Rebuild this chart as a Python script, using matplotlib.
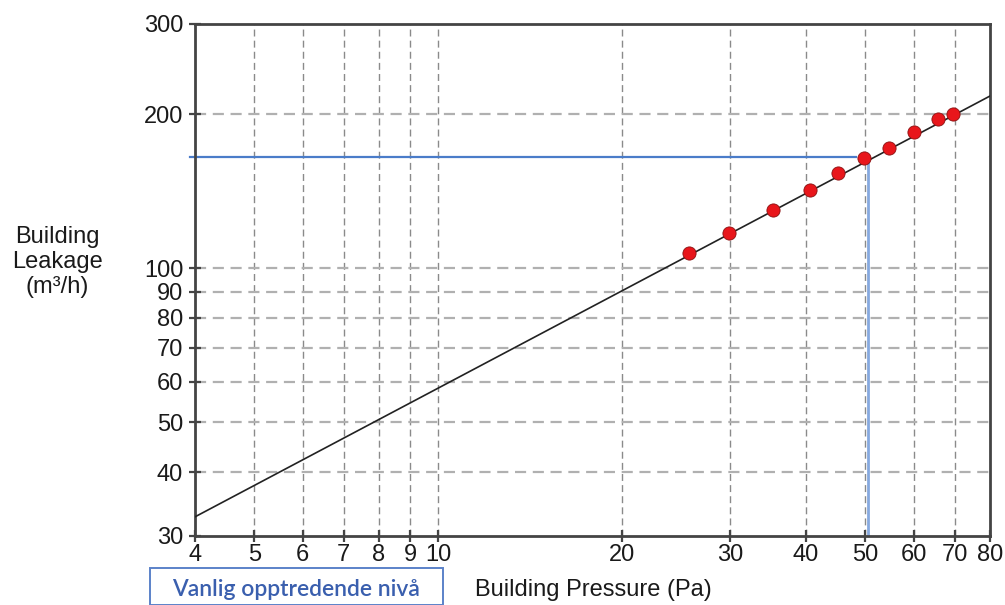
import matplotlib
matplotlib.use("Agg")
import matplotlib.pyplot as plt
from matplotlib.patches import Rectangle
from matplotlib.ticker import FixedLocator, NullLocator, FixedFormatter

plt.rcParams["font.family"] = ["Liberation Sans", "DejaVu Sans"]

# Measured pressure / leakage pairs
pressure = [25.7, 29.9, 35.3, 40.6, 45.1, 49.8, 54.7, 60.1, 65.8, 69.6]
leakage = [107.1, 117.2, 129.9, 142.2, 153.5, 164.2, 171.6, 184.6, 195.7, 200.2]

# Fitted power-law line, end points
fit_pressure = [4, 80]
fit_leakage = [32.7, 217]

ref_pressure = 50.5
ref_leakage = 165

x_ticks = [4, 5, 6, 7, 8, 9, 10, 20, 30, 40, 50, 60, 70, 80]
y_ticks = [30, 40, 50, 60, 70, 80, 90, 100, 200, 300]

W, H = 1005, 605
fig = plt.figure(figsize=(W / 100, H / 100), dpi=100)
ax = fig.add_axes([195 / W, (H - 536) / H, 795 / W, 512 / H])

ax.set_xscale("log")
ax.set_yscale("log")
ax.set_xlim(4, 80)
ax.set_ylim(30, 300)

ax.xaxis.set_major_locator(FixedLocator(x_ticks))
ax.xaxis.set_major_formatter(FixedFormatter([str(v) for v in x_ticks]))
ax.xaxis.set_minor_locator(NullLocator())
ax.yaxis.set_major_locator(FixedLocator(y_ticks))
ax.yaxis.set_major_formatter(FixedFormatter([str(v) for v in y_ticks]))
ax.yaxis.set_minor_locator(NullLocator())

# Grid lines
for xv in x_ticks[1:-1]:
    ax.axvline(xv, color="#8a8a8a", lw=1.0, ls=(0, (5, 3)), zorder=1)
for yv in y_ticks[1:-1]:
    ax.axhline(yv, color="#b0b0b0", lw=1.6, ls=(0, (5, 3)), zorder=1)

# Fitted line and measured points
ax.plot(fit_pressure, fit_leakage, color="#222222", lw=1.2, zorder=3)
ax.plot(pressure, leakage, "o", color="#e8161b", markersize=9.5,
        markeredgecolor="#8a1010", markeredgewidth=0.6, zorder=4)

# Reference level lines
ax.plot([3.92, 48.3], [ref_leakage, ref_leakage], color="#4a7cc9", lw=1.6,
        clip_on=False, zorder=2)
ax.plot([ref_pressure, ref_pressure], [ref_leakage * 0.985, 30],
        color="#86a9df", lw=2.0, zorder=2)

for s in ax.spines.values():
    s.set_color("#444444")
    s.set_linewidth(2.0)

ax.tick_params(axis="both", direction="inout", length=9, width=1.6,
               color="#444444", labelsize=17, labelcolor="#1a1a1a")
ax.tick_params(axis="x", pad=1)
ax.tick_params(axis="y", pad=4)

# Axis titles
fig.text(57 / W, 1 - 262 / H, "Building\nLeakage\n(m³/h)", ha="center",
         va="center", fontsize=17, color="#1a1a1a", linespacing=1.17)
fig.text(593 / W, 1 - 590 / H, "Building Pressure (Pa)", ha="center",
         va="center", fontsize=17, color="#1a1a1a")

# Boxed caption at the lower left
fig.patches.append(Rectangle((150 / W, 0), (443 - 150) / W, (H - 568) / H,
                             transform=fig.transFigure, fill=False,
                             edgecolor="#5b82c9", lw=1.4))
fig.text(296 / W, 1 - 590 / H, "Vanlig opptredende nivå", ha="center",
         va="center", fontsize=16.5, color="#3a5fae", family="Lato",
         weight="semibold")

fig.savefig("out.png", dpi=100)
